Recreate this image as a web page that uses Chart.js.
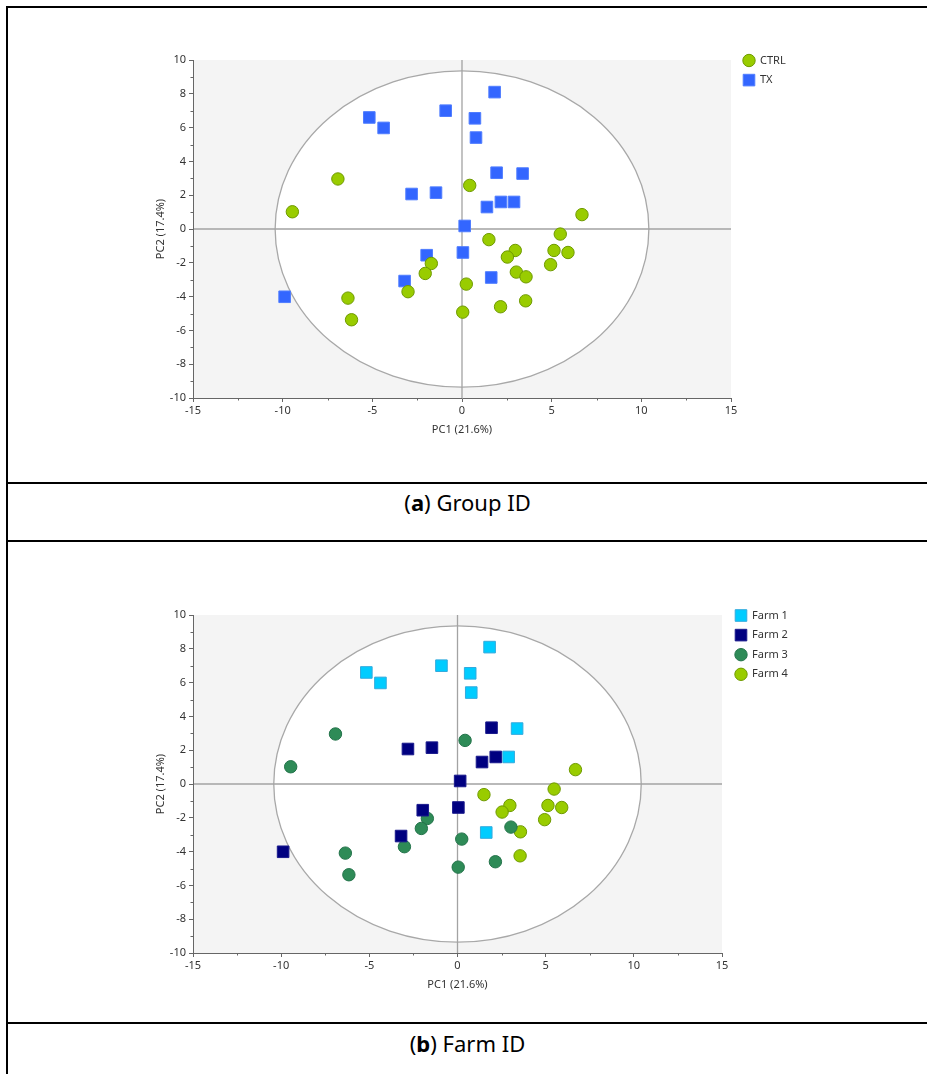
<!DOCTYPE html>
<html>
<head>
<meta charset="utf-8">
<script src="https://cdn.jsdelivr.net/npm/chart.js@4.4.0/dist/chart.umd.min.js"></script>
<style>
  body { margin: 0; background: #fff; width: 927px; height: 1074px; position: relative; overflow: hidden; font-family: "Noto Sans", sans-serif; }
  .line { position: absolute; background: #000; }
  .box { position: absolute; left: 8px; width: 792px; }
  .cap { position: absolute; left: 8px; width: 919px; text-align: center; font-size: 22px; line-height: 24px; color: #000; }
</style>
</head>
<body>
<div class="line" style="left:6px;top:6px;width:2px;height:1068px"></div>
<div class="line" style="left:6px;top:6px;width:921px;height:2px"></div>
<div class="line" style="left:6px;top:482px;width:921px;height:2px"></div>
<div class="line" style="left:6px;top:540px;width:921px;height:2px"></div>
<div class="line" style="left:6px;top:1022px;width:921px;height:2px"></div>

<div class="box" style="top:8px;height:474px"><canvas id="chartA"></canvas></div>
<div class="cap" style="top:490px">(<b>a</b>) Group ID</div>
<div class="box" style="top:542px;height:480px"><canvas id="chartB"></canvas></div>
<div class="cap" style="top:1031px">(<b>b</b>) Farm ID</div>

<script>
// PCA scores: [PC1, PC2]
const farm1 = [[-5.17, 6.6], [-4.37, 5.98], [-0.91, 7.0], [1.82, 8.1], [0.72, 6.55], [0.78, 5.41], [3.38, 3.28], [2.9, 1.6], [1.63, -2.87]]
const farm2 = [[-2.81, 2.07], [-1.45, 2.15], [0.15, 0.18], [-1.97, -1.55], [0.05, -1.39], [-3.2, -3.08], [-9.89, -4.01], [1.93, 3.33], [2.17, 1.6], [1.39, 1.3]]
const farm3 = [[-6.92, 2.96], [-9.46, 1.02], [0.43, 2.58], [-1.71, -2.04], [-2.05, -2.63], [-3.01, -3.71], [-6.36, -4.09], [-6.16, -5.37], [0.24, -3.26], [0.04, -4.92], [3.03, -2.55], [2.15, -4.6]]
const farm4 = [[6.69, 0.85], [5.48, -0.3], [1.5, -0.63], [2.97, -1.27], [2.53, -1.66], [5.13, -1.27], [5.91, -1.39], [4.94, -2.11], [3.57, -2.83], [3.55, -4.25]]

// CTRL animals came from farms 3 and 4, TX from farms 1 and 2
const ctrl = farm3.concat(farm4)
const tx = farm1.concat(farm2)

const groupLabels = ['CTRL', 'TX']
const farmLabels = ['Farm 1', 'Farm 2', 'Farm 3', 'Farm 4']

// Hotelling ellipse half-widths (PC1, PC2)
const ELLIPSE = { rx: 10.42, ry: 9.36 }
const xTitle = 'PC1 (21.6%)'
const yTitle = 'PC2 (17.4%)'

Chart.defaults.font.family = '"Noto Sans", sans-serif'
Chart.defaults.font.size = 11
Chart.defaults.color = '#333'

function toPoints(arr) {
  return arr.map(p => ({ x: p[0], y: p[1] }))
}

function circleSet(label, arr, fill, border) {
  return { label: label, data: toPoints(arr), pointStyle: 'circle', pointRadius: 6.2,
    backgroundColor: fill, borderColor: border, pointBorderWidth: 1 }
}
function squareSet(label, arr, fill, border) {
  return { label: label, data: toPoints(arr), pointStyle: 'rect', pointRadius: 8.2,
    backgroundColor: fill, borderColor: border, pointBorderWidth: 1 }
}

// grey plot area, white ellipse and the two zero lines
const pcaBackdrop = {
  id: 'pcaBackdrop',
  beforeDraw(chart) {
    const ctx = chart.ctx, a = chart.chartArea
    const xs = chart.scales.x, ys = chart.scales.y
    ctx.save()
    ctx.fillStyle = '#f4f4f4'
    ctx.fillRect(a.left, a.top, a.width, a.height)
    const cx = xs.getPixelForValue(0), cy = ys.getPixelForValue(0)
    const rx = xs.getPixelForValue(ELLIPSE.rx) - cx
    const ry = cy - ys.getPixelForValue(ELLIPSE.ry)
    ctx.beginPath()
    ctx.ellipse(cx, cy, rx, ry, 0, 0, Math.PI * 2)
    ctx.fillStyle = '#fff'
    ctx.fill()
    ctx.strokeStyle = '#a8a8a8'
    ctx.lineWidth = 1.3
    ctx.stroke()
    ctx.strokeStyle = '#a3a3a3'
    ctx.lineWidth = 1.3
    ctx.beginPath()
    ctx.moveTo(a.left, cy); ctx.lineTo(a.right, cy)
    ctx.moveTo(cx, a.top); ctx.lineTo(cx, a.bottom)
    ctx.stroke()
    ctx.restore()
  },
  afterDraw(chart) {
    // short minor ticks half way between the labelled ones
    const ctx = chart.ctx, a = chart.chartArea
    ctx.save()
    ctx.strokeStyle = '#666'
    ctx.lineWidth = 1
    ctx.beginPath()
    const xs = chart.scales.x, ys = chart.scales.y
    for (let i = 0; i < xs.ticks.length - 1; i++) {
      const p = Math.round(xs.getPixelForValue((xs.ticks[i].value + xs.ticks[i + 1].value) / 2)) + 0.5
      ctx.moveTo(p, a.bottom); ctx.lineTo(p, a.bottom + 2.5)
    }
    for (let i = 0; i < ys.ticks.length - 1; i++) {
      const p = Math.round(ys.getPixelForValue((ys.ticks[i].value + ys.ticks[i + 1].value) / 2)) + 0.5
      ctx.moveTo(a.left - 2.5, p); ctx.lineTo(a.left, p)
    }
    ctx.stroke()
    ctx.restore()
  }
}

// legend beside the plot, using the datasets' own markers
const sideLegend = {
  id: 'sideLegend',
  afterDraw(chart, args, opts) {
    const ctx = chart.ctx, a = chart.chartArea
    ctx.save()
    ctx.textBaseline = 'middle'
    ctx.font = '11px "Noto Sans", sans-serif'
    chart.data.datasets.forEach((ds, i) => {
      const x = a.right + opts.offset
      const y = a.top + 0.5 + i * 19.6
      ctx.fillStyle = ds.backgroundColor
      ctx.strokeStyle = ds.borderColor
      ctx.lineWidth = 1
      Chart.helpers.drawPoint(ctx, { pointStyle: ds.pointStyle, radius: ds.pointRadius, borderWidth: 1 }, x, y)
      ctx.fillStyle = '#333'
      ctx.fillText(ds.label, x + 11, y)
    })
    ctx.restore()
  }
}

function makeOptions(padding, legendOffset) {
  return {
    responsive: true,
    maintainAspectRatio: false,
    animation: false,
    events: [],
    layout: { padding: padding },
    plugins: {
      legend: { display: false },
      tooltip: { enabled: false },
      sideLegend: { offset: legendOffset }
    },
    scales: {
      x: {
        type: 'linear', min: -15, max: 15,
        ticks: { stepSize: 5, padding: 2, color: '#333' },
        grid: { drawOnChartArea: false, drawTicks: true, tickLength: 4, color: '#666' },
        border: { display: true, color: '#666', width: 1 },
        title: { display: true, text: xTitle, color: '#333', font: { size: 11 }, padding: { top: 0, bottom: 4 } },
        afterFit(s) { s.height = 42 }
      },
      y: {
        type: 'linear', min: -10, max: 10,
        ticks: { stepSize: 2, padding: 3, color: '#333' },
        grid: { drawOnChartArea: false, drawTicks: true, tickLength: 4, color: '#666' },
        border: { display: true, color: '#666', width: 1 },
        title: { display: true, text: yTitle, color: '#333', font: { size: 11 }, padding: { top: 1, bottom: 0 } },
        afterFit(s) { s.width = 40 }
      }
    }
  }
}

new Chart(document.getElementById('chartA'), {
  type: 'scatter',
  data: {
    datasets: [
      circleSet(groupLabels[0], ctrl, '#99cc00', '#6f9a00'),
      squareSet(groupLabels[1], tx, '#3366ff', '#4f7dff')
    ]
  },
  options: makeOptions({ top: 52, left: 145, right: 69, bottom: 42 }, 18),
  plugins: [pcaBackdrop, sideLegend]
})

new Chart(document.getElementById('chartB'), {
  type: 'scatter',
  data: {
    datasets: [
      squareSet(farmLabels[0], farm1, '#00ccff', '#33aadd'),
      squareSet(farmLabels[1], farm2, '#000080', '#1a1a8c'),
      circleSet(farmLabels[2], farm3, '#2e8b57', '#23734a'),
      circleSet(farmLabels[3], farm4, '#99cc00', '#6f9a00')
    ]
  },
  options: makeOptions({ top: 73, left: 145, right: 78, bottom: 27 }, 19),
  plugins: [pcaBackdrop, sideLegend]
})
</script>
</body>
</html>
